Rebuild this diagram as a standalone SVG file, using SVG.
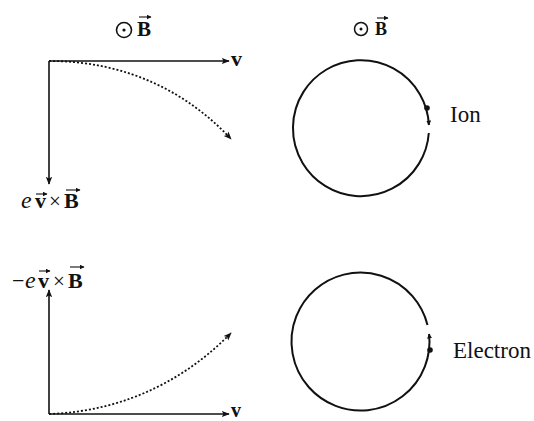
<svg xmlns="http://www.w3.org/2000/svg" width="534" height="421" viewBox="0 0 534 421">
<defs>
<marker id="ah" viewBox="0 0 10 10" refX="9" refY="5" markerWidth="8" markerHeight="8" markerUnits="userSpaceOnUse" orient="auto">
<path d="M0,1 L10,5 L0,9 L2,5 Z" fill="#111"/>
</marker>
<marker id="sm" viewBox="0 0 10 10" refX="9" refY="5" markerWidth="5" markerHeight="5" markerUnits="userSpaceOnUse" orient="auto">
<path d="M0,0 L10,5 L0,10 Z" fill="#111"/>
</marker>
</defs>
<style>
text{font-family:"Liberation Serif","Times New Roman",serif;fill:#111}
.b{font-weight:bold}
.i{font-style:italic}
.axis{stroke:#111;stroke-width:1.6;fill:none}
.dot{stroke:#111;stroke-width:1.8;fill:none;stroke-dasharray:2 2}
.orbit{stroke:#111;stroke-width:2;fill:none}
.vec{stroke:#111;stroke-width:1.1;fill:none}
</style>
<rect width="534" height="421" fill="#fff"/>

<g id="field-left">
<circle cx="124" cy="30" r="7.5" fill="none" stroke="#111" stroke-width="1.6"/>
<circle cx="124" cy="30" r="1.6" fill="#111"/>
<text x="137" y="36" font-size="21" class="b">B</text>
<line class="vec" x1="139" y1="17" x2="151" y2="17" marker-end="url(#sm)"/>
</g>

<g id="field-right">
<circle cx="361" cy="29" r="6.5" fill="none" stroke="#111" stroke-width="1.5"/>
<circle cx="361" cy="29" r="1.5" fill="#111"/>
<text x="375" y="35" font-size="18" class="b">B</text>
<line class="vec" x1="377" y1="18" x2="388" y2="18" marker-end="url(#sm)"/>
</g>

<g id="connectors">
<line class="axis" x1="49" y1="61" x2="229" y2="61" marker-end="url(#ah)"/>
<line class="axis" x1="49" y1="61" x2="49" y2="184" marker-end="url(#ah)"/>
<path class="dot" d="M49,61 C130,61 190,95 231,139" marker-end="url(#ah)"/>
<line class="axis" x1="49" y1="414" x2="229" y2="414" marker-end="url(#ah)"/>
<line class="axis" x1="49" y1="414" x2="49" y2="290" marker-end="url(#ah)"/>
<path class="dot" d="M49,414 C130,411 190,375 231,333" marker-end="url(#ah)"/>
</g>

<g id="axes-top-labels">
<text x="231" y="66" font-size="22" class="b">v</text>
<text x="21" y="208" font-size="24" class="i">e</text>
<text x="35" y="208" font-size="22" class="b">v</text>
<line class="vec" x1="36" y1="194" x2="47" y2="194" marker-end="url(#sm)"/>
<text x="49" y="208" font-size="21">×</text>
<text x="64" y="208" font-size="22" class="b">B</text>
<line class="vec" x1="66" y1="190" x2="80" y2="190" marker-end="url(#sm)"/>
</g>

<g id="axes-bottom-labels">
<text x="231" y="417" font-size="20" class="b">v</text>
<text x="12" y="288" font-size="22">−</text>
<text x="25" y="288" font-size="24" class="i">e</text>
<text x="38" y="288" font-size="22" class="b">v</text>
<line class="vec" x1="39" y1="271" x2="50" y2="271" marker-end="url(#sm)"/>
<text x="53" y="288" font-size="21">×</text>
<text x="68" y="288" font-size="22" class="b">B</text>
<line class="vec" x1="70" y1="267" x2="84" y2="267" marker-end="url(#sm)"/>
</g>

<g id="ion">
<path class="orbit" d="M428.8,133 A68,68 0 1 1 428.9,125" marker-end="url(#sm)"/>
<circle cx="427" cy="108" r="2.8" fill="#111"/>
<text x="450" y="122" font-size="23">Ion</text>
</g>

<g id="electron">
<path class="orbit" d="M427.5,325 A69,69 0 1 0 429.1,334" marker-end="url(#sm)"/>
<circle cx="430" cy="350" r="2.8" fill="#111"/>
<text x="453" y="358" font-size="23">Electron</text>
</g>
</svg>
